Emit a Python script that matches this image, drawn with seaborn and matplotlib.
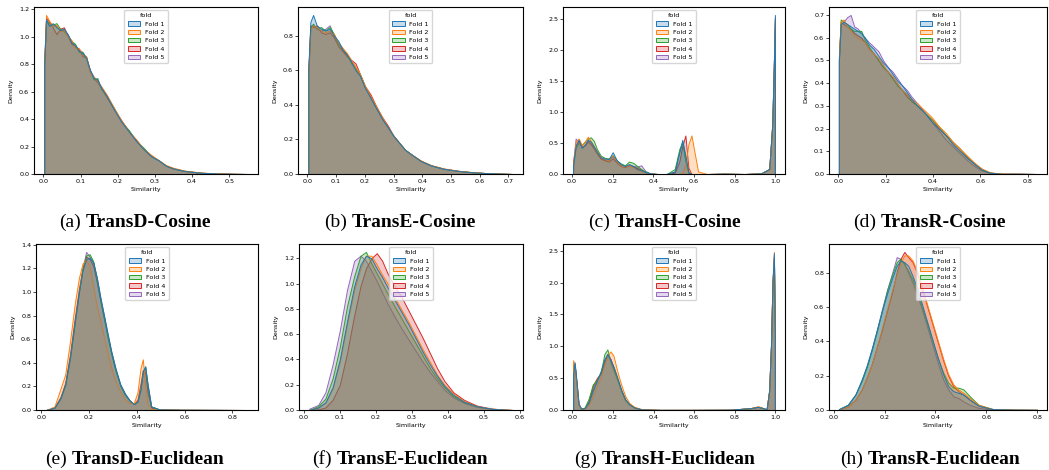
import numpy as np
import pandas as pd
import matplotlib
matplotlib.use("Agg")
import matplotlib.pyplot as plt
from matplotlib.ticker import MultipleLocator
import seaborn as sns

# ---- data: bin edges and per-fold density heights ----

# (a) TransD-Cosine
transd_cos_edges = [0, 0.004, 0.01, 0.02, 0.03, 0.04, 0.05, 0.06, 0.07, 0.08, 0.09, 0.10, 0.11,
                    0.12, 0.13, 0.14, 0.15, 0.16, 0.18, 0.20, 0.22, 0.24, 0.26, 0.28, 0.30, 0.32,
                    0.34, 0.36, 0.40, 0.45, 0.50, 0.54, 0.56]
transd_cos_f1 = [0.80, 1.13, 1.08, 1.10, 1.07, 1.05, 1.06, 1.02, 0.96, 0.94, 0.90, 0.88, 0.85, 0.76, 0.70, 0.69,
                 0.63, 0.57, 0.47, 0.38, 0.31, 0.24, 0.18, 0.13, 0.10, 0.06, 0.04, 0.022, 0.009, 0.003, 0.001, 0.0]
transd_cos_f2 = [0.82, 1.16, 1.12, 1.08, 1.09, 1.04, 1.05, 1.00, 0.98, 0.92, 0.92, 0.87, 0.86, 0.74, 0.71, 0.68,
                 0.64, 0.58, 0.48, 0.39, 0.31, 0.25, 0.18, 0.14, 0.10, 0.065, 0.045, 0.025, 0.01, 0.004, 0.001, 0.0]
transd_cos_f3 = [0.78, 1.12, 1.10, 1.09, 1.10, 1.06, 1.04, 1.01, 0.97, 0.95, 0.89, 0.89, 0.84, 0.75, 0.69, 0.70,
                 0.62, 0.57, 0.48, 0.38, 0.32, 0.24, 0.19, 0.13, 0.10, 0.06, 0.04, 0.023, 0.009, 0.003, 0.001, 0.0]
transd_cos_f4 = [0.81, 1.14, 1.11, 1.07, 1.02, 1.06, 1.07, 1.01, 0.95, 0.93, 0.91, 0.86, 0.85, 0.75, 0.70, 0.67,
                 0.63, 0.56, 0.47, 0.39, 0.31, 0.24, 0.18, 0.13, 0.10, 0.06, 0.04, 0.022, 0.009, 0.003, 0.001, 0.0]
transd_cos_f5 = [0.79, 1.12, 1.09, 1.09, 1.08, 1.05, 1.05, 1.02, 0.97, 0.94, 0.91, 0.89, 0.85, 0.76, 0.71, 0.68,
                 0.64, 0.57, 0.48, 0.38, 0.31, 0.25, 0.18, 0.13, 0.10, 0.06, 0.04, 0.022, 0.009, 0.003, 0.001, 0.0]

# (b) TransE-Cosine
transe_cos_edges = [0, 0.006, 0.015, 0.025, 0.04, 0.055, 0.07, 0.085, 0.10, 0.115, 0.13, 0.145, 0.16,
                    0.175, 0.19, 0.21, 0.23, 0.25, 0.27, 0.29, 0.31, 0.33, 0.35, 0.38, 0.41, 0.45,
                    0.50, 0.55, 0.60, 0.65, 0.70, 0.73]
transe_cos_f1 = [0.60, 0.88, 0.92, 0.86, 0.84, 0.83, 0.84, 0.80, 0.77, 0.72, 0.69, 0.65, 0.60, 0.57, 0.50, 0.44,
                 0.38, 0.32, 0.27, 0.22, 0.18, 0.14, 0.11, 0.075, 0.05, 0.03, 0.018, 0.01, 0.005, 0.002, 0.0]
transe_cos_f2 = [0.58, 0.84, 0.86, 0.85, 0.83, 0.82, 0.83, 0.81, 0.76, 0.73, 0.70, 0.66, 0.62, 0.58, 0.51, 0.45,
                 0.39, 0.33, 0.27, 0.22, 0.18, 0.14, 0.11, 0.078, 0.052, 0.032, 0.019, 0.011, 0.005, 0.002, 0.0]
transe_cos_f3 = [0.57, 0.85, 0.87, 0.84, 0.85, 0.83, 0.85, 0.81, 0.75, 0.72, 0.69, 0.64, 0.61, 0.58, 0.51, 0.44,
                 0.38, 0.32, 0.27, 0.22, 0.18, 0.14, 0.11, 0.076, 0.05, 0.03, 0.018, 0.01, 0.005, 0.002, 0.0]
transe_cos_f4 = [0.59, 0.86, 0.85, 0.86, 0.82, 0.81, 0.82, 0.79, 0.74, 0.71, 0.68, 0.66, 0.64, 0.58, 0.51, 0.46,
                 0.39, 0.33, 0.28, 0.22, 0.18, 0.14, 0.11, 0.077, 0.05, 0.031, 0.018, 0.01, 0.005, 0.002, 0.0]
transe_cos_f5 = [0.58, 0.85, 0.86, 0.84, 0.83, 0.84, 0.86, 0.80, 0.76, 0.72, 0.69, 0.65, 0.61, 0.57, 0.50, 0.45,
                 0.38, 0.32, 0.27, 0.22, 0.18, 0.14, 0.11, 0.075, 0.05, 0.03, 0.018, 0.01, 0.005, 0.002, 0.0]

# (c) TransH-Cosine
transh_cos_edges = [0, 0.01, 0.025, 0.04, 0.055, 0.07, 0.085, 0.10, 0.115, 0.13, 0.15, 0.17, 0.19, 0.21,
                    0.23, 0.25, 0.27, 0.29, 0.31, 0.33, 0.35, 0.37, 0.40, 0.44, 0.49, 0.52, 0.535, 0.55,
                    0.565, 0.58, 0.595, 0.61, 0.63, 0.70, 0.80, 0.90, 0.96, 0.98, 0.99, 0.996, 1.0]
transh_cos_f1 = [0.15, 0.45, 0.55, 0.42, 0.47, 0.55, 0.52, 0.44, 0.36, 0.27, 0.25, 0.24, 0.35, 0.22, 0.16, 0.13,
                 0.16, 0.13, 0.08, 0.06, 0.03, 0.01, 0.0, 0.0, 0.04, 0.35, 0.55, 0.30, 0.03, 0.0, 0.0, 0.0,
                 0.0, 0.005, 0.0, 0.01, 0.08, 0.8, 1.8, 2.56]
transh_cos_f2 = [0.20, 0.52, 0.57, 0.47, 0.52, 0.60, 0.53, 0.45, 0.36, 0.28, 0.24, 0.22, 0.30, 0.20, 0.14, 0.12,
                 0.14, 0.11, 0.07, 0.05, 0.02, 0.005, 0.0, 0.0, 0.0, 0.0, 0.02, 0.15, 0.48, 0.62, 0.35, 0.04,
                 0.0, 0.005, 0.0, 0.01, 0.07, 0.75, 1.7, 2.5]
transh_cos_f3 = [0.15, 0.42, 0.50, 0.47, 0.52, 0.57, 0.59, 0.53, 0.40, 0.30, 0.26, 0.25, 0.30, 0.22, 0.17, 0.14,
                 0.20, 0.18, 0.13, 0.08, 0.04, 0.01, 0.0, 0.0, 0.08, 0.40, 0.52, 0.20, 0.02, 0.0, 0.0, 0.0,
                 0.0, 0.005, 0.0, 0.01, 0.08, 0.8, 1.8, 2.5]
transh_cos_f4 = [0.15, 0.47, 0.54, 0.44, 0.46, 0.52, 0.48, 0.41, 0.33, 0.25, 0.22, 0.20, 0.25, 0.18, 0.13, 0.11,
                 0.14, 0.12, 0.10, 0.07, 0.03, 0.01, 0.0, 0.0, 0.02, 0.20, 0.45, 0.62, 0.10, 0.0, 0.0, 0.0,
                 0.0, 0.005, 0.0, 0.01, 0.08, 0.8, 1.8, 2.52]
transh_cos_f5 = [0.18, 0.57, 0.52, 0.43, 0.48, 0.54, 0.49, 0.41, 0.33, 0.26, 0.23, 0.22, 0.28, 0.20, 0.15, 0.12,
                 0.15, 0.13, 0.12, 0.14, 0.05, 0.01, 0.0, 0.0, 0.04, 0.35, 0.50, 0.25, 0.02, 0.0, 0.0, 0.0,
                 0.0, 0.005, 0.0, 0.01, 0.08, 0.8, 1.8, 2.5]

# (d) TransR-Cosine
transr_cos_edges = [0, 0.006, 0.015, 0.03, 0.045, 0.06, 0.075, 0.09, 0.105, 0.12, 0.14, 0.16, 0.18, 0.20,
                    0.22, 0.24, 0.26, 0.28, 0.30, 0.32, 0.35, 0.38, 0.41, 0.44, 0.47, 0.50, 0.53, 0.56,
                    0.59, 0.62, 0.66, 0.72, 0.80, 0.88]
transr_cos_f1 = [0.50, 0.66, 0.67, 0.66, 0.65, 0.64, 0.63, 0.62, 0.60, 0.57, 0.55, 0.52, 0.49, 0.47, 0.44, 0.41,
                 0.39, 0.36, 0.33, 0.30, 0.27, 0.23, 0.20, 0.17, 0.13, 0.10, 0.07, 0.045, 0.02, 0.006, 0.001,
                 0.001, 0.0]
transr_cos_f2 = [0.52, 0.67, 0.68, 0.65, 0.63, 0.61, 0.60, 0.59, 0.58, 0.55, 0.53, 0.51, 0.48, 0.45, 0.43, 0.40,
                 0.37, 0.35, 0.33, 0.31, 0.28, 0.25, 0.21, 0.18, 0.14, 0.11, 0.08, 0.05, 0.025, 0.008, 0.002,
                 0.001, 0.0]
transr_cos_f3 = [0.51, 0.68, 0.67, 0.66, 0.64, 0.63, 0.63, 0.63, 0.59, 0.56, 0.53, 0.50, 0.47, 0.45, 0.42, 0.39,
                 0.37, 0.35, 0.32, 0.30, 0.27, 0.24, 0.21, 0.17, 0.14, 0.11, 0.075, 0.045, 0.02, 0.006, 0.001,
                 0.001, 0.0]
transr_cos_f4 = [0.50, 0.67, 0.66, 0.65, 0.64, 0.62, 0.61, 0.60, 0.58, 0.55, 0.53, 0.50, 0.47, 0.45, 0.42, 0.39,
                 0.37, 0.34, 0.32, 0.30, 0.27, 0.24, 0.20, 0.17, 0.14, 0.11, 0.075, 0.045, 0.02, 0.006, 0.001,
                 0.001, 0.0]
transr_cos_f5 = [0.51, 0.66, 0.67, 0.69, 0.70, 0.65, 0.64, 0.62, 0.60, 0.58, 0.56, 0.54, 0.50, 0.47, 0.45, 0.42,
                 0.39, 0.37, 0.34, 0.31, 0.27, 0.23, 0.19, 0.15, 0.12, 0.09, 0.06, 0.035, 0.015, 0.005, 0.001,
                 0.001, 0.0]

# (e) TransD-Euclidean
transd_euc_edges = [0, 0.04, 0.07, 0.09, 0.11, 0.13, 0.15, 0.165, 0.18, 0.195, 0.21, 0.225, 0.24, 0.255,
                    0.27, 0.285, 0.30, 0.32, 0.34, 0.36, 0.38, 0.395, 0.41, 0.42, 0.43, 0.44, 0.45, 0.47,
                    0.52, 0.65, 0.80, 0.93]
transd_euc_f1 = [0.0, 0.02, 0.10, 0.22, 0.45, 0.75, 1.00, 1.18, 1.28, 1.29, 1.25, 1.12, 0.95, 0.80, 0.65, 0.50,
                 0.36, 0.22, 0.14, 0.08, 0.05, 0.07, 0.17, 0.33, 0.37, 0.22, 0.03, 0.005, 0.002, 0.001, 0.0]
transd_euc_f2 = [0.0, 0.03, 0.18, 0.30, 0.58, 0.90, 1.12, 1.24, 1.28, 1.22, 1.05, 0.88, 0.75, 0.62, 0.48, 0.36,
                 0.25, 0.16, 0.09, 0.06, 0.06, 0.15, 0.35, 0.43, 0.20, 0.05, 0.01, 0.005, 0.002, 0.001, 0.0]
transd_euc_f3 = [0.0, 0.02, 0.10, 0.21, 0.44, 0.74, 1.00, 1.20, 1.31, 1.32, 1.26, 1.10, 0.93, 0.78, 0.62, 0.48,
                 0.34, 0.21, 0.13, 0.08, 0.05, 0.07, 0.18, 0.32, 0.37, 0.20, 0.03, 0.005, 0.002, 0.001, 0.0]
transd_euc_f4 = [0.0, 0.02, 0.11, 0.23, 0.47, 0.78, 1.03, 1.20, 1.30, 1.28, 1.22, 1.08, 0.92, 0.77, 0.62, 0.48,
                 0.34, 0.21, 0.13, 0.08, 0.05, 0.09, 0.22, 0.34, 0.32, 0.15, 0.02, 0.005, 0.002, 0.001, 0.0]
transd_euc_f5 = [0.0, 0.02, 0.10, 0.21, 0.44, 0.74, 1.00, 1.20, 1.34, 1.30, 1.25, 1.12, 0.95, 0.80, 0.64, 0.50,
                 0.35, 0.22, 0.14, 0.08, 0.05, 0.07, 0.17, 0.32, 0.36, 0.21, 0.03, 0.005, 0.002, 0.001, 0.0]

# (f) TransE-Euclidean
transe_euc_edges = [0, 0.03, 0.05, 0.07, 0.09, 0.11, 0.13, 0.15, 0.165, 0.18, 0.195, 0.21, 0.225, 0.24,
                    0.26, 0.28, 0.30, 0.32, 0.34, 0.36, 0.38, 0.40, 0.43, 0.46, 0.50, 0.54, 0.57, 0.59]
transe_euc_f1 = [0.0, 0.02, 0.06, 0.18, 0.40, 0.70, 0.98, 1.15, 1.22, 1.20, 1.12, 1.05, 0.97, 0.88, 0.78, 0.68,
                 0.57, 0.46, 0.36, 0.27, 0.19, 0.12, 0.065, 0.03, 0.01, 0.003, 0.0]
transe_euc_f2 = [0.0, 0.02, 0.06, 0.17, 0.38, 0.68, 0.95, 1.12, 1.22, 1.22, 1.15, 1.07, 1.00, 0.90, 0.80, 0.70,
                 0.59, 0.48, 0.38, 0.28, 0.20, 0.13, 0.07, 0.03, 0.01, 0.003, 0.0]
transe_euc_f3 = [0.0, 0.03, 0.09, 0.25, 0.50, 0.82, 1.06, 1.22, 1.25, 1.16, 1.08, 1.00, 0.92, 0.83, 0.73, 0.63,
                 0.53, 0.43, 0.33, 0.25, 0.18, 0.11, 0.06, 0.03, 0.01, 0.003, 0.0]
transe_euc_f4 = [0.0, 0.005, 0.02, 0.08, 0.20, 0.45, 0.75, 0.98, 1.12, 1.20, 1.24, 1.18, 1.08, 0.99, 0.90, 0.79,
                 0.68, 0.57, 0.45, 0.33, 0.23, 0.14, 0.08, 0.035, 0.012, 0.004, 0.0]
transe_euc_f5 = [0.01, 0.04, 0.14, 0.36, 0.63, 0.95, 1.18, 1.22, 1.18, 1.10, 1.02, 0.93, 0.84, 0.75, 0.65, 0.56,
                 0.47, 0.38, 0.30, 0.23, 0.16, 0.10, 0.055, 0.025, 0.008, 0.003, 0.0]

# (g) TransH-Euclidean
transh_euc_edges = [0, 0.006, 0.015, 0.025, 0.035, 0.05, 0.07, 0.09, 0.11, 0.13, 0.15, 0.165, 0.18, 0.195,
                    0.21, 0.23, 0.25, 0.27, 0.29, 0.32, 0.36, 0.50, 0.70, 0.86, 0.90, 0.93, 0.95, 0.965,
                    0.975, 0.983, 0.99, 0.997, 1.0]
transh_euc_f1 = [0.55, 0.75, 0.45, 0.10, 0.02, 0.03, 0.12, 0.30, 0.45, 0.62, 0.80, 0.88, 0.78, 0.68, 0.52, 0.32,
                 0.17, 0.09, 0.04, 0.01, 0.002, 0.002, 0.005, 0.03, 0.05, 0.03, 0.01, 0.3, 1.0, 2.0, 2.46, 1.2]
transh_euc_f2 = [0.78, 0.70, 0.40, 0.08, 0.02, 0.02, 0.08, 0.22, 0.38, 0.52, 0.72, 0.85, 0.92, 0.85, 0.62, 0.40,
                 0.22, 0.11, 0.05, 0.015, 0.002, 0.003, 0.004, 0.03, 0.06, 0.03, 0.01, 0.3, 1.0, 2.0, 2.48, 1.2]
transh_euc_f3 = [0.70, 0.72, 0.42, 0.09, 0.02, 0.04, 0.18, 0.40, 0.47, 0.60, 0.88, 0.95, 0.75, 0.62, 0.48, 0.30,
                 0.16, 0.09, 0.04, 0.01, 0.002, 0.002, 0.004, 0.03, 0.05, 0.03, 0.01, 0.3, 1.0, 2.0, 2.4, 1.2]
transh_euc_f4 = [0.70, 0.72, 0.42, 0.09, 0.02, 0.03, 0.14, 0.38, 0.50, 0.58, 0.75, 0.87, 0.80, 0.66, 0.50, 0.31,
                 0.16, 0.09, 0.04, 0.01, 0.002, 0.002, 0.004, 0.03, 0.05, 0.03, 0.01, 0.3, 1.0, 2.0, 2.4, 1.2]
transh_euc_f5 = [0.72, 0.72, 0.42, 0.09, 0.02, 0.03, 0.13, 0.34, 0.47, 0.58, 0.78, 0.88, 0.80, 0.67, 0.50, 0.31,
                 0.16, 0.09, 0.04, 0.01, 0.002, 0.002, 0.004, 0.03, 0.05, 0.03, 0.01, 0.3, 1.0, 2.0, 2.42, 1.2]

# (h) TransR-Euclidean
transr_euc_edges = [0, 0.04, 0.07, 0.10, 0.12, 0.14, 0.16, 0.18, 0.20, 0.22, 0.24, 0.255, 0.27, 0.285, 0.30,
                    0.32, 0.34, 0.36, 0.38, 0.40, 0.42, 0.44, 0.46, 0.48, 0.50, 0.52, 0.55, 0.59, 0.66,
                    0.76, 0.84]
transr_euc_f1 = [0.005, 0.03, 0.09, 0.18, 0.26, 0.36, 0.47, 0.58, 0.68, 0.77, 0.84, 0.87, 0.86, 0.84, 0.78, 0.70,
                 0.60, 0.50, 0.40, 0.30, 0.21, 0.14, 0.11, 0.10, 0.09, 0.06, 0.025, 0.005, 0.002, 0.001]
transr_euc_f2 = [0.003, 0.02, 0.06, 0.12, 0.19, 0.27, 0.37, 0.48, 0.59, 0.70, 0.79, 0.86, 0.90, 0.90, 0.87, 0.80,
                 0.70, 0.60, 0.50, 0.40, 0.30, 0.21, 0.15, 0.12, 0.10, 0.07, 0.03, 0.006, 0.002, 0.001]
transr_euc_f3 = [0.005, 0.03, 0.09, 0.17, 0.25, 0.35, 0.46, 0.58, 0.70, 0.79, 0.86, 0.88, 0.85, 0.81, 0.76, 0.68,
                 0.58, 0.49, 0.39, 0.30, 0.22, 0.16, 0.13, 0.13, 0.12, 0.08, 0.03, 0.006, 0.002, 0.001]
transr_euc_f4 = [0.003, 0.02, 0.06, 0.12, 0.19, 0.27, 0.37, 0.47, 0.58, 0.69, 0.80, 0.88, 0.92, 0.89, 0.86, 0.79,
                 0.69, 0.59, 0.49, 0.39, 0.29, 0.20, 0.14, 0.11, 0.09, 0.06, 0.025, 0.005, 0.002, 0.001]
transr_euc_f5 = [0.005, 0.03, 0.09, 0.17, 0.26, 0.36, 0.47, 0.59, 0.70, 0.80, 0.89, 0.88, 0.85, 0.80, 0.74, 0.66,
                 0.57, 0.47, 0.37, 0.27, 0.18, 0.12, 0.08, 0.07, 0.05, 0.03, 0.012, 0.003, 0.001, 0.001]

tags = ["(a)", "(b)", "(c)", "(d)", "(e)", "(f)", "(g)", "(h)"]
names = ["TransD-Cosine", "TransE-Cosine", "TransH-Cosine", "TransR-Cosine",
         "TransD-Euclidean", "TransE-Euclidean", "TransH-Euclidean", "TransR-Euclidean"]
fold_labels = ["Fold 1", "Fold 2", "Fold 3", "Fold 4", "Fold 5"]
x_tick_steps = [0.1, 0.1, 0.2, 0.2, 0.2, 0.1, 0.2, 0.2]

W, H = 1049, 470
# axes boxes in pixels: (left, top, right, bottom)
AXES_PX = [(34, 7, 258, 174), (298, 7, 523, 174), (563, 7, 785, 174), (829, 7, 1047, 174),
           (36, 244, 258, 410), (299, 244, 523, 410), (563, 244, 785, 410), (829, 244, 1047, 410)]
CAPTION_X = [135, 400, 665, 930]
CAPTION_BASE = [227, 464]
SMALL = 4.6


def make_frame(edges, folds):
    """Long table with one row per bin and fold, weights are the densities."""
    edges = np.asarray(edges)
    centers = (edges[:-1] + edges[1:]) / 2
    frames = []
    for label, vals in zip(fold_labels, folds):
        frames.append(pd.DataFrame({"Similarity": centers, "Density": vals, "fold": label}))
    return pd.concat(frames, ignore_index=True)


def draw_panel(ax, edges, folds, step):
    df = make_frame(edges, folds)
    sns.histplot(data=df, x="Similarity", weights="Density", hue="fold", bins=edges,
                 element="poly", stat="count", linewidth=0.7, ax=ax)
    ax.set_ylabel("Density", fontsize=SMALL)
    ax.set_xlabel("Similarity", fontsize=SMALL, labelpad=2)
    ax.xaxis.set_major_locator(MultipleLocator(step))
    ax.tick_params(labelsize=SMALL, length=2, width=0.5, pad=1.5)
    for sp in ax.spines.values():
        sp.set_linewidth(0.8)
    sns.move_legend(ax, "upper center", fontsize=SMALL, title_fontsize=SMALL,
                    borderpad=0.5, labelspacing=0.45, handlelength=2.0, handletextpad=0.7)


def add_caption(fig, cx, base, tag, name):
    renderer = fig.canvas.get_renderer()
    y = 1 - base / H
    t1 = fig.text(0, y, tag, fontsize=14, family="Liberation Serif", va="baseline")
    t2 = fig.text(0, y, name, fontsize=14, family="Liberation Serif", weight="bold", va="baseline")
    w1 = t1.get_window_extent(renderer).width
    w2 = t2.get_window_extent(renderer).width
    gap = 4.5
    left = cx - (w1 + gap + w2) / 2
    t1.set_x(left / W)
    t2.set_x((left + w1 + gap) / W)


def main():
    panels = [
        (transd_cos_edges, [transd_cos_f1, transd_cos_f2, transd_cos_f3, transd_cos_f4, transd_cos_f5]),
        (transe_cos_edges, [transe_cos_f1, transe_cos_f2, transe_cos_f3, transe_cos_f4, transe_cos_f5]),
        (transh_cos_edges, [transh_cos_f1, transh_cos_f2, transh_cos_f3, transh_cos_f4, transh_cos_f5]),
        (transr_cos_edges, [transr_cos_f1, transr_cos_f2, transr_cos_f3, transr_cos_f4, transr_cos_f5]),
        (transd_euc_edges, [transd_euc_f1, transd_euc_f2, transd_euc_f3, transd_euc_f4, transd_euc_f5]),
        (transe_euc_edges, [transe_euc_f1, transe_euc_f2, transe_euc_f3, transe_euc_f4, transe_euc_f5]),
        (transh_euc_edges, [transh_euc_f1, transh_euc_f2, transh_euc_f3, transh_euc_f4, transh_euc_f5]),
        (transr_euc_edges, [transr_euc_f1, transr_euc_f2, transr_euc_f3, transr_euc_f4, transr_euc_f5]),
    ]

    fig = plt.figure(figsize=(W / 100, H / 100), dpi=100)
    for i, ((edges, folds), (l, t, r, b)) in enumerate(zip(panels, AXES_PX)):
        ax = fig.add_axes([l / W, 1 - b / H, (r - l) / W, (b - t) / H])
        draw_panel(ax, edges, folds, x_tick_steps[i])
        add_caption(fig, CAPTION_X[i % 4], CAPTION_BASE[i // 4], tags[i], names[i])

    fig.savefig("out.png", dpi=100)


if __name__ == "__main__":
    main()
